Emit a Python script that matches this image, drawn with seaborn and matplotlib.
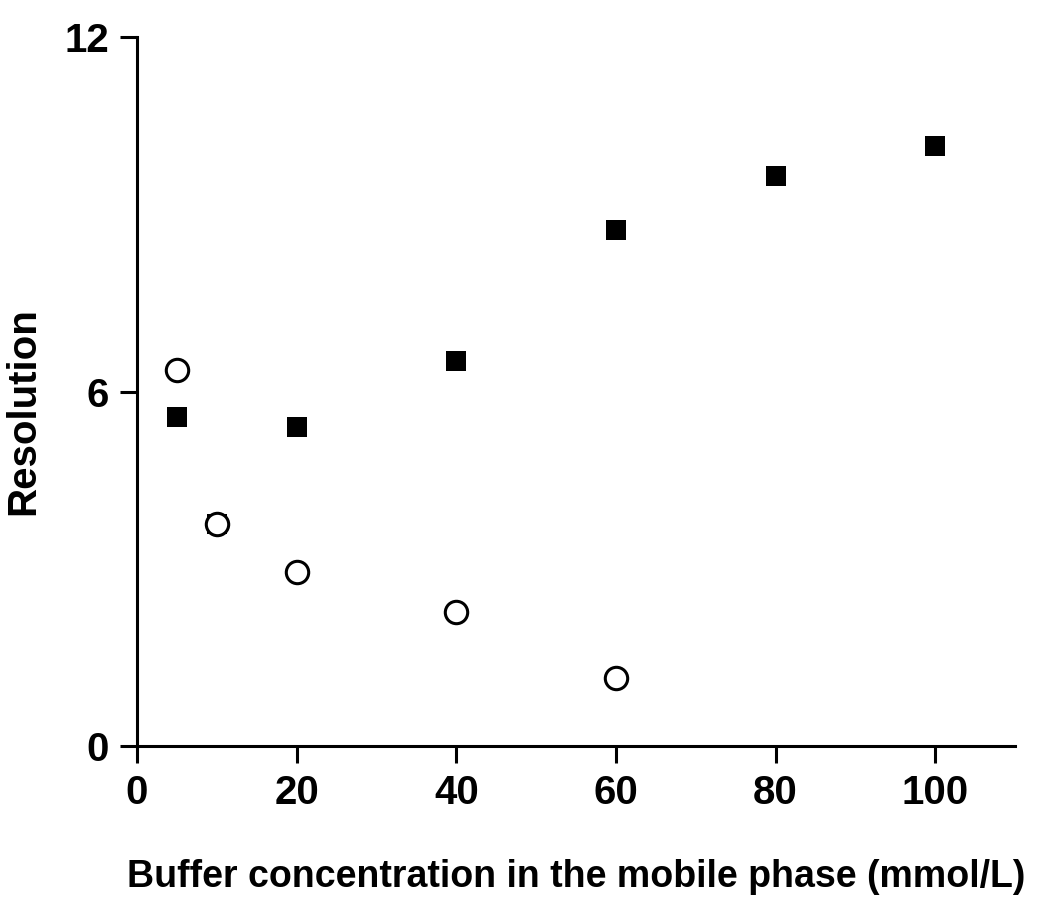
import numpy as np
import pandas as pd
import matplotlib.pyplot as plt
import seaborn as sns

# Values
conc_sq = [5, 10, 20, 40, 60, 80, 100]
res_sq = [5.57, 3.76, 5.40, 6.52, 8.73, 9.65, 10.16]
conc_circ = [5, 10, 20, 40, 60]
res_circ = [6.36, 3.76, 2.95, 2.27, 1.15]

sq = pd.DataFrame({'conc': conc_sq, 'res': res_sq})
circ = pd.DataFrame({'conc': conc_circ, 'res': res_circ})

sns.set_style('ticks')
plt.rcParams['font.family'] = ['Liberation Sans', 'DejaVu Sans']
plt.rcParams['font.weight'] = 'bold'
plt.rcParams['text.color'] = 'black'
plt.rcParams['axes.labelcolor'] = 'black'

fig = plt.figure(figsize=(10.5, 9.09), dpi=100)
ax = fig.add_axes([0.1305, 0.1793, 0.8362, 0.78])

sns.scatterplot(data=sq, x='conc', y='res', marker='s', s=210, color='black',
                edgecolor='black', linewidth=0, ax=ax, zorder=3)
sns.scatterplot(data=circ, x='conc', y='res', marker='o', s=260, color='white',
                edgecolor='black', linewidth=2.2, ax=ax, zorder=4)

ax.set_xlim(0, 110)
ax.set_ylim(0, 12)
ax.set_xticks([0, 20, 40, 60, 80, 100])
ax.set_yticks([0, 6, 12])
for side in ['top', 'right']:
    ax.spines[side].set_visible(False)
for side in ['left', 'bottom']:
    ax.spines[side].set_linewidth(2.2)
    ax.spines[side].set_color('black')
ax.tick_params(axis='both', direction='out', length=12, width=2.2, labelsize=29,
               colors='black', labelcolor='black', pad=8)
for lab in ax.get_xticklabels() + ax.get_yticklabels():
    lab.set_fontweight('bold')

ax.set_xlabel('Buffer concentration in the mobile phase (mmol/L)', fontsize=27,
              fontweight='bold', labelpad=34, color='black')
ax.set_ylabel('Resolution', fontsize=29, fontweight='bold', color='black')
ax.yaxis.set_label_coords(-0.108, 0.4725)

fig.savefig('out.png', dpi=100)
